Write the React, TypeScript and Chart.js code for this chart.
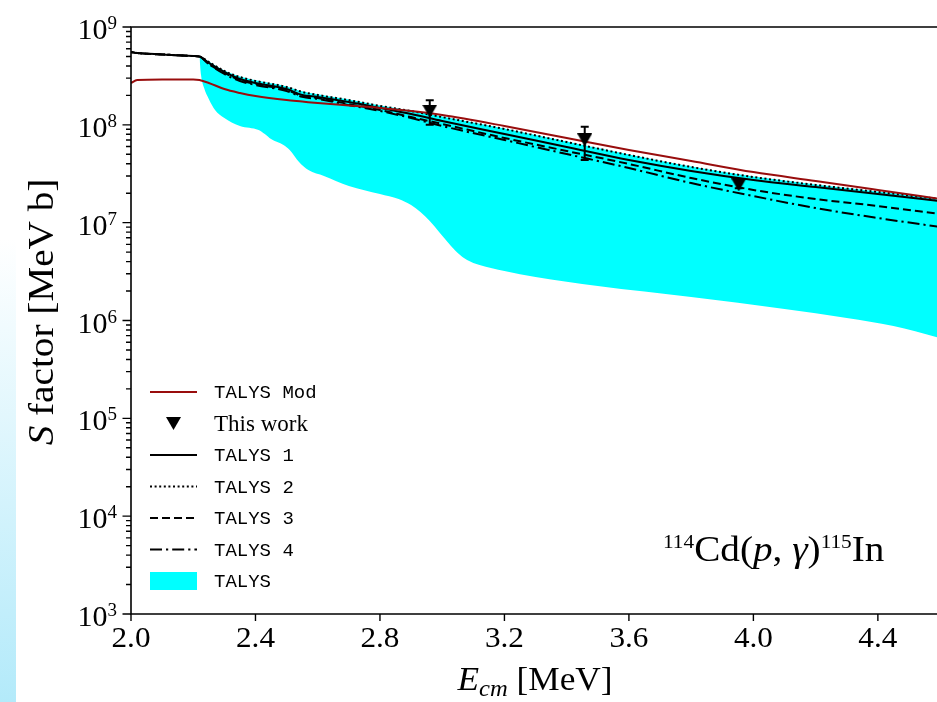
import React, { useEffect, useRef } from 'react';
import { Chart, registerables } from 'chart.js';
Chart.register(...registerables);

// ---------- data (E in MeV, S in MeV b) ----------
const energy = [2.0, 2.02, 2.1, 2.2, 2.22, 2.25, 2.3, 2.35, 2.4, 2.5, 2.55, 2.6, 2.7, 2.8, 2.9, 3.0, 3.2, 3.4, 3.6, 3.8, 4.0, 4.2, 4.4, 4.6];
const talysMod = [2.68e8, 2.87e8, 2.91e8, 2.91e8, 2.87e8, 2.68e8, 2.32e8, 2.115e8, 1.97e8, 1.79e8, 1.73e8, 1.67e8, 1.576e8, 1.49e8, 1.385e8, 1.26e8, 9.73e7, 7.34e7, 5.53e7, 4.27e7, 3.29e7, 2.67e7, 2.16e7, 1.745e7];
const talys1 = [5.55e8, 5.42e8, 5.24e8, 5.05e8, 4.99e8, 4.29e8, 3.47e8, 2.94e8, 2.68e8, 2.32e8, 2.02e8, 1.93e8, 1.71e8, 1.49e8, 1.29e8, 1.094e8, 8.06e7, 5.93e7, 4.37e7, 3.38e7, 2.73e7, 2.31e7, 1.96e7, 1.66e7];
const talys2 = [5.55e8, 5.42e8, 5.24e8, 5.05e8, 4.99e8, 4.39e8, 3.55e8, 3.08e8, 2.81e8, 2.44e8, 2.17e8, 2.02e8, 1.79e8, 1.56e8, 1.385e8, 1.2e8, 9.07e7, 6.67e7, 4.92e7, 3.71e7, 2.93e7, 2.43e7, 2.06e7, 1.745e7];
const talys3 = [5.55e8, 5.42e8, 5.24e8, 5.05e8, 4.99e8, 4.19e8, 3.39e8, 2.87e8, 2.61e8, 2.27e8, 1.97e8, 1.88e8, 1.63e8, 1.42e8, 1.2e8, 1.02e8, 7.34e7, 5.4e7, 3.98e7, 2.86e7, 2.16e7, 1.745e7, 1.48e7, 1.226e7];
const talys4 = [5.55e8, 5.42e8, 5.24e8, 5.05e8, 4.99e8, 4.19e8, 3.31e8, 2.81e8, 2.55e8, 2.22e8, 1.93e8, 1.84e8, 1.59e8, 1.385e8, 1.175e8, 9.73e7, 7.0e7, 5.03e7, 3.62e7, 2.54e7, 1.87e7, 1.41e7, 1.116e7, 9.03e6];

// TALYS range (cyan band): upper and lower envelopes
const bandHighEnergy = [2.22, 2.25, 2.3, 2.35, 2.4, 2.5, 2.55, 2.6, 2.7, 2.8, 2.9, 3.0, 3.2, 3.4, 3.6, 3.8, 4.0, 4.2, 4.4, 4.6];
const talysHigh = [5.0e8, 4.45e8, 3.6e8, 3.12e8, 2.85e8, 2.47e8, 2.2e8, 2.05e8, 1.81e8, 1.58e8, 1.4e8, 1.22e8, 9.2e7, 6.75e7, 4.98e7, 3.75e7, 2.96e7, 2.46e7, 2.08e7, 1.76e7];
const bandLowEnergy = [2.22, 2.225, 2.235, 2.25, 2.27, 2.3, 2.35, 2.41, 2.43, 2.45, 2.49, 2.51, 2.54, 2.57, 2.62, 2.7, 2.8, 2.86, 2.9, 2.93, 2.96, 2.99, 3.02, 3.05, 3.08, 3.12, 3.2, 3.3, 3.5, 3.8, 4.1, 4.3, 4.45, 4.6];
const talysLow = [4.94e8, 3.23e8, 2.38e8, 1.84e8, 1.42e8, 1.175e8, 9.73e7, 8.86e7, 8.06e7, 7.16e7, 6.22e7, 5.53e7, 4.17e7, 3.45e7, 3.0e7, 2.37e7, 1.96e7, 1.745e7, 1.515e7, 1.285e7, 1.04e7, 8.03e6, 6.19e6, 4.9e6, 4.15e6, 3.69e6, 3.2e6, 2.78e6, 2.25e6, 1.74e6, 1.31e6, 1.06e6, 8.79e5, 6.62e5];

// "This work" data points with error bars
const workEnergy = [2.96, 3.458, 3.953];
const workS = [1.38e8, 7.0e7, 2.43e7];
const workHigh = [1.78e8, 9.57e7, 2.6e7];
const workLow = [1.0e8, 4.37e7, 2.25e7];

const xTickValues = [2.0, 2.4, 2.8, 3.2, 3.6, 4.0, 4.4];
const xTickLabels = ['2.0', '2.4', '2.8', '3.2', '3.6', '4.0', '4.4'];
const yMajorValues = [1e3, 1e4, 1e5, 1e6, 1e7, 1e8, 1e9];
const yExponents = ['3', '4', '5', '6', '7', '8', '9'];
const yMinorMultipliers = [2, 3, 4, 5, 6, 7, 8, 9];

const legendLabels = ['TALYS Mod', 'This work', 'TALYS 1', 'TALYS 2', 'TALYS 3', 'TALYS 4', 'TALYS'];

const RED = '#990d0d';
const CYAN = '#00ffff';
const SERIF = '"Liberation Serif", "Times New Roman", serif';
const MONO = '"Liberation Mono", "Courier New", monospace';
const DOT = [2, 2.6];
const DASH = [8, 4];
const DASHDOT = [12, 4, 2.2, 4];

type Run = { t: string; f: string; dy?: number };

function makeTriangle(): HTMLCanvasElement {
  const c = document.createElement('canvas');
  c.width = 15;
  c.height = 13;
  const g = c.getContext('2d')!;
  g.fillStyle = '#000';
  g.beginPath();
  g.moveTo(0, 0);
  g.lineTo(15, 0);
  g.lineTo(7.5, 13);
  g.closePath();
  g.fill();
  return c;
}

function pts(xs: number[], ys: number[]) {
  return xs.map((x, i) => ({ x, y: ys[i] }));
}

function runsWidth(ctx: CanvasRenderingContext2D, runs: Run[]) {
  let w = 0;
  for (const r of runs) {
    ctx.font = r.f;
    w += ctx.measureText(r.t).width;
  }
  return w;
}
// draws runs starting at x (or centred on x when center=true), horizontally stretched by hs
function drawRuns(ctx: CanvasRenderingContext2D, x: number, y: number, runs: Run[], hs = 1, center = false) {
  const w = runsWidth(ctx, runs);
  ctx.save();
  ctx.translate(center ? x - (w * hs) / 2 : x, y);
  ctx.scale(hs, 1);
  let cx = 0;
  for (const r of runs) {
    ctx.font = r.f;
    ctx.fillText(r.t, cx, r.dy || 0);
    cx += ctx.measureText(r.t).width;
  }
  ctx.restore();
  return w * hs;
}

export default function App() {
  const ref = useRef<HTMLCanvasElement>(null);

  useEffect(() => {
    const tri = makeTriangle();

    const overlay = {
      id: 'overlay',
      afterDatasetsDraw(chart: any) {
        const { ctx, scales } = chart;
        const x = scales.x, y = scales.y;
        ctx.save();
        ctx.strokeStyle = '#000';
        ctx.lineWidth = 2;
        ctx.setLineDash([]);
        workEnergy.forEach((e, i) => {
          const px = x.getPixelForValue(e);
          const top = y.getPixelForValue(workHigh[i]);
          const bot = y.getPixelForValue(workLow[i]);
          ctx.beginPath();
          ctx.moveTo(px, top);
          ctx.lineTo(px, bot);
          ctx.moveTo(px - 4, top);
          ctx.lineTo(px + 4, top);
          ctx.moveTo(px - 4, bot);
          ctx.lineTo(px + 4, bot);
          ctx.stroke();
        });
        ctx.restore();
      },
      afterDraw(chart: any) {
        const { ctx, chartArea: a, scales } = chart;
        const x = scales.x, y = scales.y;
        ctx.save();
        ctx.strokeStyle = '#000';
        ctx.fillStyle = '#000';
        ctx.lineWidth = 1.6;
        ctx.setLineDash([]);
        // spines
        ctx.beginPath();
        ctx.moveTo(a.right + 5, a.top);
        ctx.lineTo(a.left, a.top);
        ctx.lineTo(a.left, a.bottom);
        ctx.lineTo(a.right + 5, a.bottom);
        ctx.stroke();
        // x ticks
        ctx.lineWidth = 1.4;
        ctx.beginPath();
        xTickValues.forEach((v) => {
          const px = x.getPixelForValue(v);
          ctx.moveTo(px, a.bottom);
          ctx.lineTo(px, a.bottom + 7);
        });
        // y ticks (major + minor)
        yMajorValues.forEach((v, i) => {
          const py = y.getPixelForValue(v);
          ctx.moveTo(a.left, py);
          ctx.lineTo(a.left - 8.5, py);
          if (i < yMajorValues.length - 1) {
            yMinorMultipliers.forEach((m) => {
              const pm = y.getPixelForValue(v * m);
              ctx.moveTo(a.left, pm);
              ctx.lineTo(a.left - 5, pm);
            });
          }
        });
        ctx.stroke();

        ctx.textAlign = 'left';
        ctx.textBaseline = 'alphabetic';
        // x tick labels
        xTickValues.forEach((v, i) => {
          drawRuns(ctx, x.getPixelForValue(v), a.bottom + 33, [{ t: xTickLabels[i], f: `30px ${SERIF}` }], 1.04, true);
        });
        // y tick labels
        yMajorValues.forEach((v, i) => {
          const py = y.getPixelForValue(v);
          const runs = [
            { t: '10', f: `30px ${SERIF}` },
            { t: yExponents[i], f: `19px ${SERIF}`, dy: -10 },
          ];
          const w = runsWidth(ctx, runs);
          drawRuns(ctx, 117 - w, py + 12, runs);
        });

        // x axis title
        drawRuns(
          ctx,
          535,
          690,
          [
            { t: 'E', f: `italic 33px ${SERIF}` },
            { t: 'cm', f: `italic 23px ${SERIF}`, dy: 6 },
            { t: ' [MeV]', f: `33px ${SERIF}` },
          ],
          1.07,
          true
        );

        // y axis title
        ctx.save();
        ctx.translate(53, 312);
        ctx.rotate(-Math.PI / 2);
        drawRuns(
          ctx,
          0,
          0,
          [
            { t: 'S', f: `italic 35px ${SERIF}` },
            { t: ' factor [MeV b]', f: `35px ${SERIF}` },
          ],
          1.12,
          true
        );
        ctx.restore();

        // reaction annotation
        drawRuns(
          ctx,
          663,
          561,
          [
            { t: '114', f: `19px ${SERIF}`, dy: -13 },
            { t: 'Cd(', f: `35px ${SERIF}` },
            { t: 'p', f: `italic 35px ${SERIF}` },
            { t: ', ', f: `35px ${SERIF}` },
            { t: 'γ', f: `italic 35px ${SERIF}` },
            { t: ')', f: `35px ${SERIF}` },
            { t: '115', f: `19px ${SERIF}`, dy: -13 },
            { t: 'In', f: `35px ${SERIF}` },
          ],
          1.12
        );

        // legend
        const rows = [392, 423.5, 455, 486.5, 518, 549.5, 581];
        const lx0 = 150, lx1 = 197, tx = 214;
        ctx.textBaseline = 'middle';
        rows.forEach((ry, i) => {
          ctx.save();
          if (i === 1) {
            ctx.drawImage(tri, (lx0 + lx1) / 2 - 7.5, ry - 6.5);
          } else if (i === 6) {
            ctx.fillStyle = CYAN;
            ctx.fillRect(lx0, ry - 9, lx1 - lx0, 18);
          } else {
            ctx.strokeStyle = i === 0 ? RED : '#000';
            ctx.lineWidth = 2;
            ctx.setLineDash(i === 3 ? DOT : i === 4 ? DASH : i === 5 ? DASHDOT : []);
            ctx.beginPath();
            ctx.moveTo(lx0, ry);
            ctx.lineTo(lx1, ry);
            ctx.stroke();
          }
          ctx.restore();
          ctx.fillStyle = '#000';
          ctx.font = i === 1 ? `23px ${SERIF}` : `19px ${MONO}`;
          ctx.fillText(legendLabels[i], tx, ry + 1);
        });
        ctx.restore();
      },
    };

    const lineDs = (label: string, data: number[], color: string, dash: number[], order: number) => ({
      label,
      data: pts(energy, data),
      borderColor: color,
      borderWidth: 2,
      borderDash: dash,
      pointRadius: 0,
      fill: false,
      cubicInterpolationMode: 'monotone',
      order,
    });

    const chart = new Chart(ref.current!, {
      type: 'line',
      data: {
        datasets: [
          {
            label: 'TALYS high',
            data: pts(bandHighEnergy, talysHigh),
            borderWidth: 0,
            borderColor: 'rgba(0,0,0,0)',
            pointRadius: 0,
            fill: false,
            cubicInterpolationMode: 'monotone',
            order: 11,
          } as any,
          {
            label: 'TALYS',
            data: pts(bandLowEnergy, talysLow),
            backgroundColor: CYAN,
            borderColor: 'rgba(0,0,0,0)',
            borderWidth: 0,
            pointRadius: 0,
            fill: 0,
            cubicInterpolationMode: 'monotone',
            order: 10,
          } as any,
          lineDs('TALYS 4', talys4, '#000', DASHDOT, 6),
          lineDs('TALYS 3', talys3, '#000', DASH, 5),
          lineDs('TALYS 2', talys2, '#000', DOT, 4),
          lineDs('TALYS 1', talys1, '#000', [], 3),
          lineDs('TALYS Mod', talysMod, RED, [], 2),
          {
            label: 'This work',
            data: pts(workEnergy, workS),
            showLine: false,
            pointStyle: tri,
            pointRadius: 7,
            pointHoverRadius: 7,
            order: 0,
          } as any,
        ],
      },
      options: {
        responsive: false,
        maintainAspectRatio: false,
        animation: false,
        devicePixelRatio: 1,
        events: [],
        layout: { autoPadding: false, padding: { left: 131, top: 27, right: 0, bottom: 88 } },
        plugins: { legend: { display: false }, tooltip: { enabled: false } },
        scales: {
          x: { type: 'linear', min: 2.0, max: 4.59, display: false },
          y: { type: 'logarithmic', min: 1e3, max: 1e9, display: false },
        },
      } as any,
      plugins: [overlay],
    });
    return () => chart.destroy();
  }, []);

  return (
    <div style={{ position: 'fixed', left: 0, top: 0, width: 937, height: 702, overflow: 'hidden', background: '#fff' }}>
      <div
        style={{
          position: 'absolute',
          left: 0,
          top: 0,
          width: 16,
          height: 702,
          background: 'linear-gradient(to bottom, rgba(180,234,250,0) 0%, rgba(180,234,250,0) 34%, #b3eafa 100%)',
        }}
      />
      <canvas ref={ref} width={937} height={702} style={{ position: 'absolute', left: 0, top: 0, width: 937, height: 702 }} />
    </div>
  );
}
